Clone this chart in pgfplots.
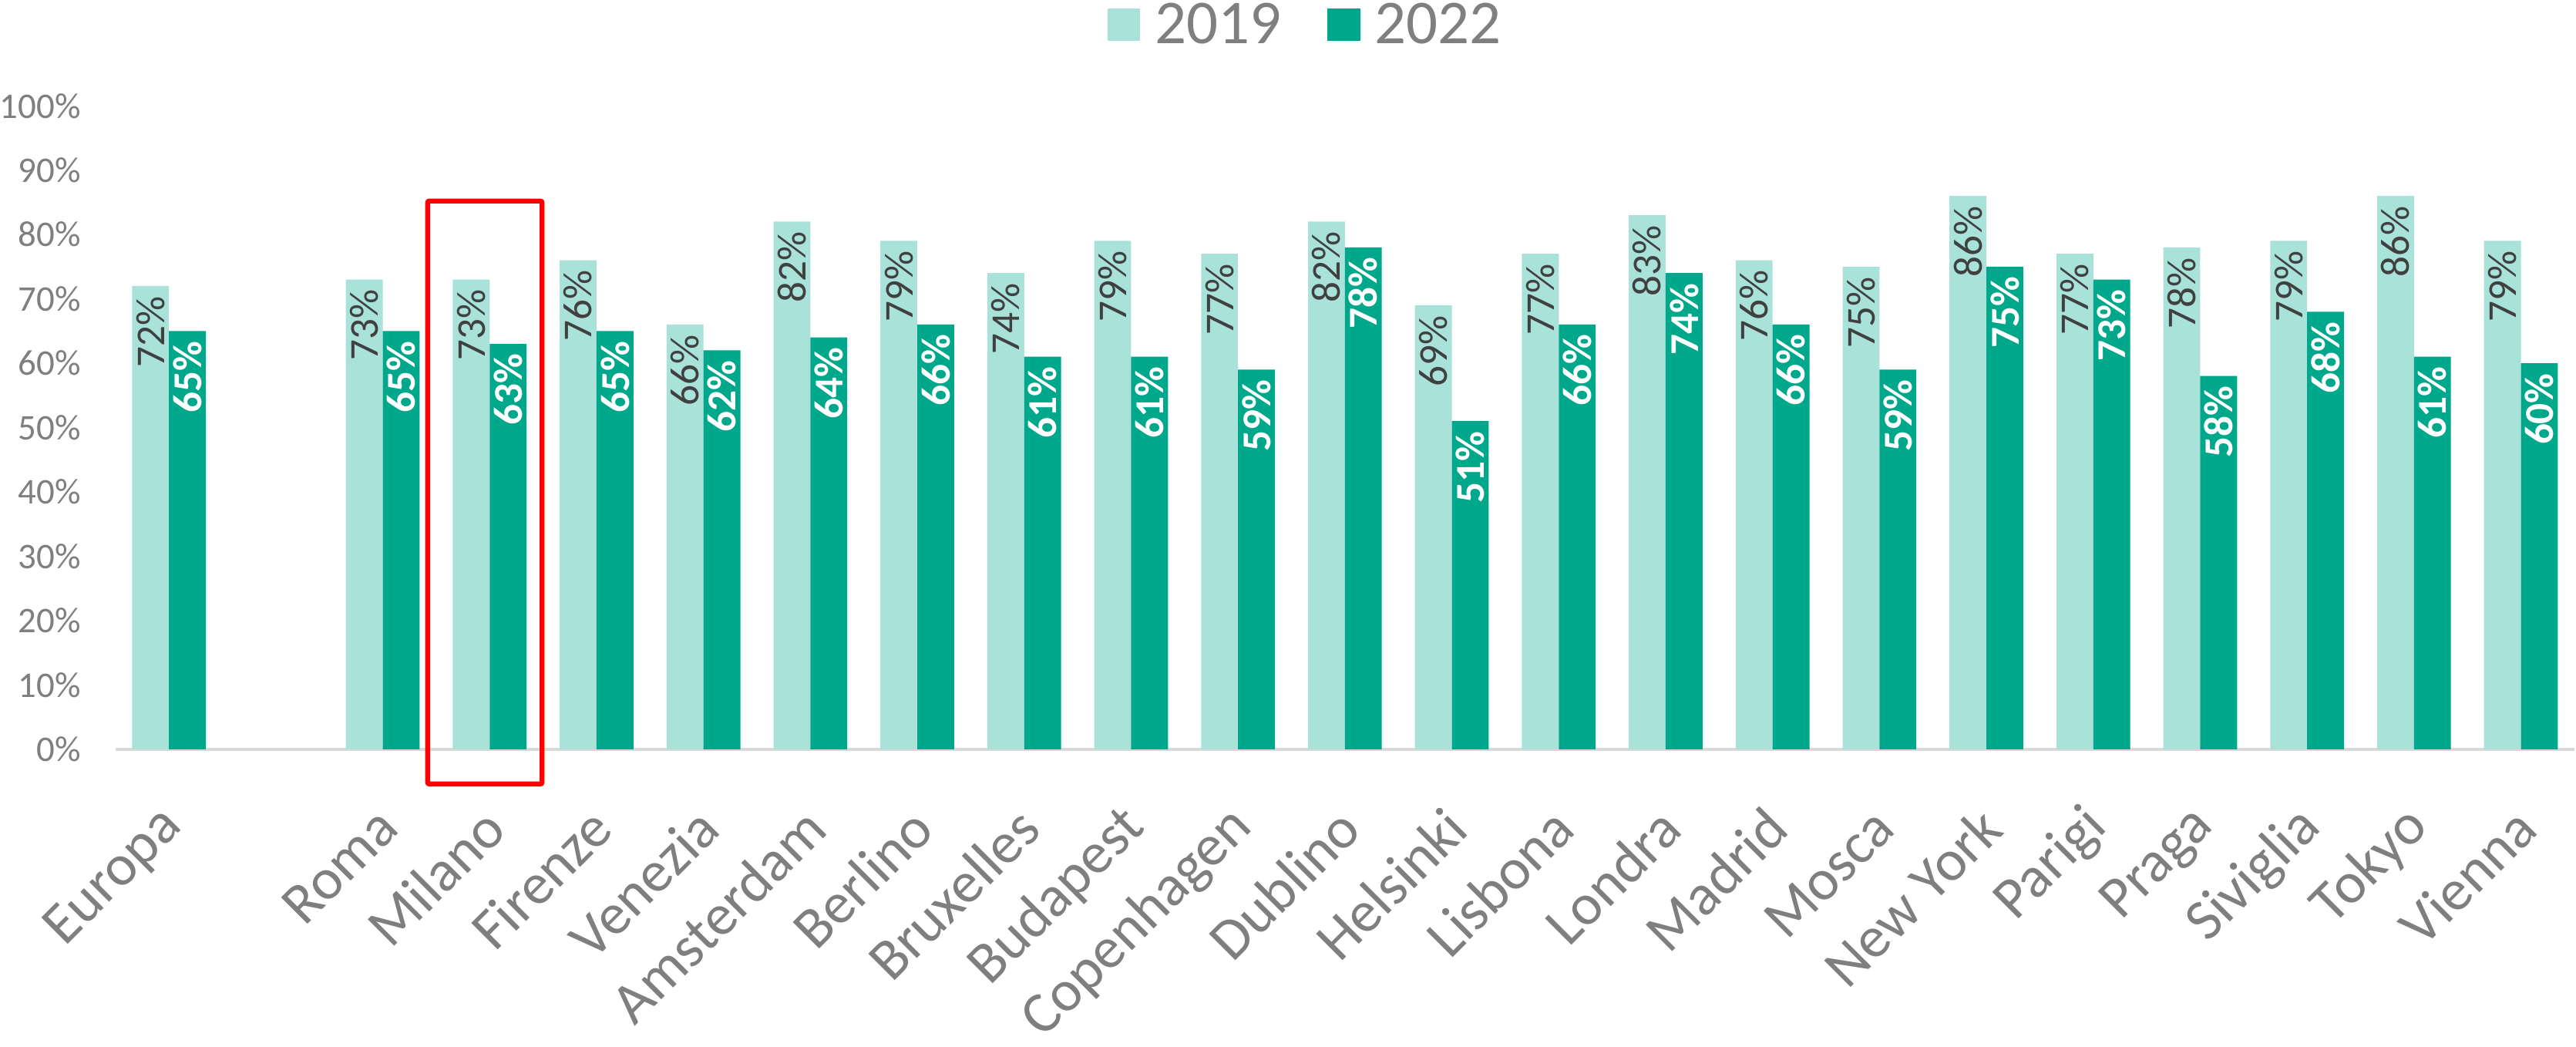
\documentclass[border=0pt]{standalone}
\usepackage{fontspec}
\setmainfont{Carlito}
\usepackage{graphicx}
\usepackage{pgfplots}
\pgfplotsset{compat=1.18}
\definecolor{c19}{HTML}{A8E2D8}
\definecolor{c22}{HTML}{00A88B}
\definecolor{tickgray}{HTML}{7F7F7F}
\definecolor{labdark}{HTML}{404040}
\definecolor{axgray}{HTML}{D9D9D9}
\begin{document}
\begin{tikzpicture}
\begin{axis}[
  scale only axis,
  width=1498.5pt, height=392pt,
  xmin=-0.5, xmax=22.5, ymin=0, ymax=100,
  axis x line*=bottom, axis y line*=left,
  x axis line style={draw=axgray, line width=2pt},
  y axis line style={draw=none},
  major tick length=0pt,
  ytick={0,10,...,100},
  yticklabels={0\%,10\%,20\%,30\%,40\%,50\%,60\%,70\%,80\%,90\%,100\%},
  yticklabel style={font=\fontsize{22}{26}\selectfont, text=tickgray, inner sep=0pt, anchor=east, xshift=-21pt},
  xtick={0,2,3,4,5,6,7,8,9,10,11,12,13,14,15,16,17,18,19,20,21,22},
  xticklabels={Europa,Roma,Milano,Firenze,Venezia,Amsterdam,Berlino,Bruxelles,Budapest,Copenhagen,Dublino,Helsinki,Lisbona,Londra,Madrid,Mosca,New York,Parigi,Praga,Siviglia,Tokyo,Vienna},
  xticklabel style={xshift=3pt, yshift=-42pt, rotate=45, anchor=east, inner sep=0pt, font=\fontsize{35.5}{42}\selectfont, text=tickgray},
  ybar, bar width=0.345,
  clip=false,
  legend image code/.code={\fill[#1,draw=none] (0pt,-10pt) rectangle (20pt,10pt);},
  legend style={at={(0.4835,1.126)}, anchor=center, draw=none, fill=none, legend columns=2,
    font=\fontsize{38}{44}\selectfont, text=tickgray,
    nodes={inner sep=0pt},
    /tikz/every odd column/.append style={column sep=9pt},
    /tikz/every even column/.append style={column sep=28pt}},
  legend cell align=left,
]
\addplot[fill=c19, draw=none, bar shift=-0.1725,
  point meta=y,
  nodes near coords={\rotatebox{90}{\pgfmathprintnumber[assume math mode=true]{\pgfplotspointmeta}\%}},
  every node near coord/.append style={anchor=north, inner ysep=6pt, inner xsep=0pt, font=\fontsize{25}{30}\selectfont, text=labdark}]
coordinates {(0,72) (2,73) (3,73) (4,76) (5,66) (6,82) (7,79) (8,74) (9,79) (10,77) (11,82) (12,69) (13,77) (14,83) (15,76) (16,75) (17,86) (18,77) (19,78) (20,79) (21,86) (22,79)};
\addlegendentry{2019}
\addplot[fill=c22, draw=none, bar shift=0.1725,
  point meta=y,
  nodes near coords={\rotatebox{90}{\pgfmathprintnumber[assume math mode=true]{\pgfplotspointmeta}\%}},
  every node near coord/.append style={anchor=north, inner ysep=6pt, inner xsep=0pt, font=\bfseries\fontsize{25}{30}\selectfont, text=white}]
coordinates {(0,65) (2,65) (3,63) (4,65) (5,62) (6,64) (7,66) (8,61) (9,61) (10,59) (11,78) (12,51) (13,66) (14,74) (15,66) (16,59) (17,75) (18,73) (19,58) (20,68) (21,61) (22,60)};
\addlegendentry{2022}
\draw[red, line width=3pt, rounded corners=1pt] (axis cs:2.42,85.2) rectangle (axis cs:3.49,-5.4);
\end{axis}
\end{tikzpicture}
\end{document}
